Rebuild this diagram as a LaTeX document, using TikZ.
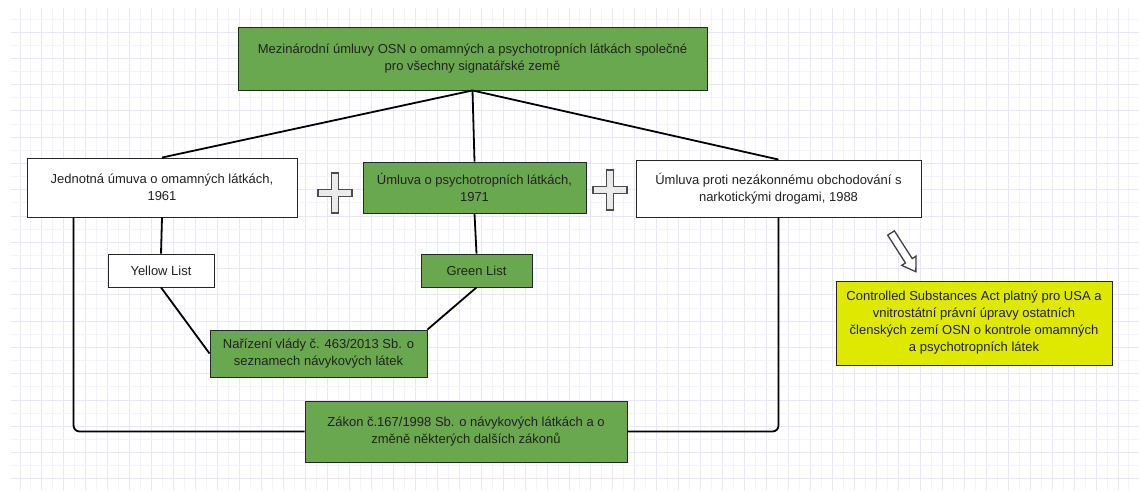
\documentclass[tikz,border=0pt]{standalone}
\usepackage{fontspec}
\setmainfont{Liberation Sans}
\usepackage{tikz}
\usetikzlibrary{positioning}

\definecolor{boxgreen}{RGB}{106,168,79}
\definecolor{boxyellow}{RGB}{222,232,0}
\definecolor{gridlight}{RGB}{243,243,255}
\definecolor{griddark}{RGB}{230,230,252}
\definecolor{txt}{RGB}{34,34,34}

\tikzset{
  lawbox/.style={draw=black!85, line width=0.9pt, align=center, text=txt, inner sep=2pt,
    font=\fontsize{13}{17}\selectfont},
  greenbox/.style={lawbox, fill=boxgreen},
  whitebox/.style={lawbox, fill=white},
  yellowbox/.style={lawbox, fill=boxyellow},
  link/.style={draw=black, line width=1.8pt},
  plusmark/.style={draw=black!70, line width=1.4pt, fill=black!8},
  hintarrow/.style={draw=black!75, line width=1.3pt, fill=white, line join=miter},
}

\begin{document}
\begin{tikzpicture}[x=1pt,y=1pt,yscale=-1,xscale=1]
\useasboundingbox (0,0) rectangle (1139,490);
\fill[white] (0,0) rectangle (1139,490);

%grid paper
\begin{scope}
\clip (11,8) rectangle (1139,490);
\foreach \k in {0,...,101} {
  \pgfmathsetmacro{\gx}{20+10.98*\k}
  \pgfmathtruncatemacro{\odd}{mod(\k,2)}
  \ifnum\odd=0 \draw[griddark, line width=1pt] (\gx,0) -- (\gx,490);
  \else \draw[gridlight, line width=1pt] (\gx,0) -- (\gx,490); \fi
}
\foreach \k in {0,...,36} {
  \pgfmathsetmacro{\gy}{19+13.14*\k}
  \pgfmathtruncatemacro{\odd}{mod(\k,2)}
  \ifnum\odd=1 \draw[griddark, line width=1pt] (0,\gy) -- (1139,\gy);
  \else \draw[gridlight, line width=1pt] (0,\gy) -- (1139,\gy); \fi
}
\end{scope}

%boxes
\node[greenbox, minimum width=469, minimum height=63] (osn) at (472.5,58.5)
  {Mezinárodní úmluvy OSN o omamných a psychotropních látkách společné\\pro všechny signatářské země};
\node[whitebox, minimum width=270, minimum height=59] (jed) at (162,187.5)
  {Jednotná úmuva o omamných látkách,\\1961};
\node[greenbox, minimum width=223, minimum height=51] (psy) at (474.5,187.5)
  {Úmluva o psychotropních látkách,\\1971};
\node[whitebox, minimum width=285, minimum height=57] (nez) at (778.5,188.5)
  {Úmluva proti nezákonnému obchodování s\\narkotickými drogami, 1988};
\node[whitebox, minimum width=106, minimum height=33] (yel) at (161,270.5) {Yellow List};
\node[greenbox, minimum width=111, minimum height=33] (grn) at (476.5,270.5) {Green List};
\node[greenbox, minimum width=217, minimum height=47] (nar) at (318.5,353.5)
  {Nařízení vlády č. 463/2013 Sb. o\\seznamech návykových látek};
\node[greenbox, minimum width=322, minimum height=61] (zak) at (466,431.5)
  {Zákon č.167/1998 Sb. o návykových látkách a o\\změně některých dalších zákonů};
\node[yellowbox, minimum width=276, minimum height=84] (csa) at (974,323)
  {Controlled Substances Act platný pro USA a\\vnitrostátní právní úpravy ostatních\\členských zemí OSN o kontrole omamných\\a psychotropních látek};

%connectors
\draw[link] (osn.south) -- (jed.north);
\draw[link] (osn.south) -- (psy.north);
\draw[link] (osn.south) -- (nez.north);
\draw[link] (jed.south) -- (yel.north);
\draw[link] (psy.south) -- (grn.north);
\draw[link] (yel.south) -- (nar.west);
\draw[link] (grn.south) -- (nar.north east);
\coordinate (jedleg) at ([xshift=47]jed.south west);
\draw[link, rounded corners=6] (jedleg) |- (zak.west);
\draw[link, rounded corners=6] (nez.south) |- (zak.east);

%plus signs
\foreach \cx/\cy in {335/193, 610/190} {
  \draw[plusmark, shift={(\cx,\cy)}]
    (-3.5,-20) -- (3.5,-20) -- (3.5,-3.5) -- (17,-3.5) -- (17,3.5) -- (3.5,3.5)
    -- (3.5,20) -- (-3.5,20) -- (-3.5,3.5) -- (-17,3.5) -- (-17,-3.5) -- (-3.5,-3.5) -- cycle;
}

%hollow arrow
\draw[hintarrow, shift={(891,233)}, rotate=57.3]
  (0,-4) -- (33,-4) -- (33,-8.5) -- (46,0) -- (33,8.5) -- (33,4) -- (0,4) -- cycle;

\end{tikzpicture}
\end{document}
